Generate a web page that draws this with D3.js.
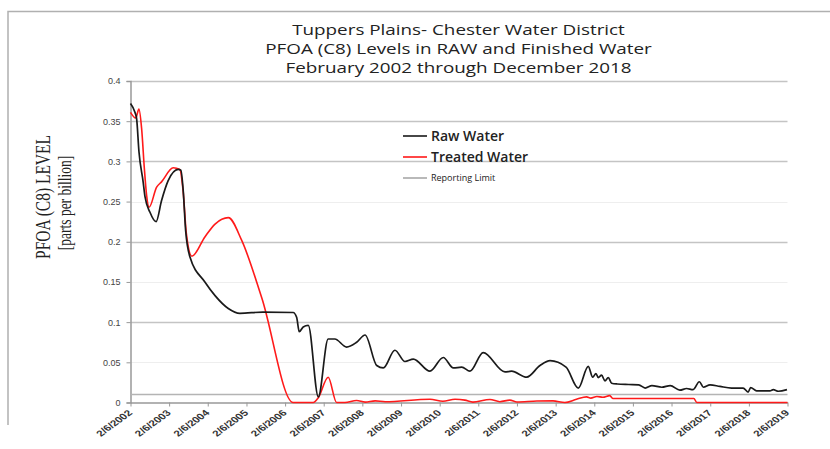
<!DOCTYPE html>
<html>
<head>
<meta charset="utf-8">
<script src="https://cdn.jsdelivr.net/npm/d3@7"></script>
<style>
  html, body { margin: 0; padding: 0; background: #fff; }
  svg { display: block; }
</style>
</head>
<body>
<div id="grafico"></div>
<script>
// dados (data, nível em ppb)
const rawDates = ["2002-02-06","2002-03-20","2002-04-05","2002-04-27","2002-06-06","2002-06-23","2002-08-08","2002-10-06",
  "2002-11-26","2003-01-28","2003-05-03","2003-05-28","2003-06-19","2003-07-12","2003-08-22","2004-01-10","2004-04-15",
  "2004-08-18","2004-12-06","2005-07-12","2006-04-23","2006-05-26","2006-06-20","2006-07-27","2006-09-13","2006-12-17",
  "2007-03-20","2007-05-22","2007-09-10","2007-12-14","2008-03-03","2008-06-21","2008-08-22","2008-12-10","2009-03-15",
  "2009-06-02","2009-11-06","2010-03-12","2010-06-15","2010-09-02","2010-11-19","2011-03-24","2011-10-16","2011-12-17",
  "2012-05-08","2012-09-11","2012-12-15","2013-05-15","2013-09-08","2013-12-11","2014-01-22","2014-02-22","2014-03-15",
  "2014-04-16","2014-05-18","2014-06-18","2014-07-20","2014-09-11","2014-12-28","2015-04-02","2015-06-02","2015-08-05",
  "2015-11-06","2016-01-25","2016-04-25","2016-06-27","2016-08-28","2016-10-26","2016-12-03","2017-02-04","2017-05-08",
  "2017-08-27","2017-12-14","2018-01-30","2018-02-23","2018-04-20","2018-08-24","2018-09-25","2018-11-11","2019-02-01"];
const rawValues = [0.372,0.361,0.353,0.312,0.274,0.256,0.237,0.225,
  0.251,0.276,0.290,0.289,0.264,0.214,0.181,0.150,0.133,
  0.117,0.111,0.1125,0.112,0.106,0.088,0.094,0.096,0.007,
  0.079,0.079,0.069,0.075,0.084,0.046,0.043,0.065,0.051,
  0.054,0.039,0.056,0.043,0.044,0.039,0.062,0.038,0.039,
  0.0315,0.046,0.052,0.044,0.018,0.045,0.0315,0.036,0.031,
  0.034,0.027,0.031,0.024,0.023,0.0224,0.022,0.018,0.021,
  0.019,0.021,0.0153,0.0174,0.016,0.0258,0.019,0.022,0.020,
  0.018,0.018,0.013,0.0186,0.0145,0.0145,0.016,0.014,0.016];

const treatedDates = ["2002-02-06","2002-03-27","2002-04-27","2002-05-22","2002-06-17","2002-07-08","2002-08-01","2002-10-11",
  "2002-11-26","2003-03-17","2003-05-18","2003-06-19","2003-07-19","2003-09-09","2004-01-10","2004-04-15","2004-08-18",
  "2004-12-22","2005-07-01","2006-04-23","2006-10-29","2006-12-17","2007-03-20","2007-06-08","2007-08-25","2007-12-14",
  "2008-03-03","2008-06-06","2008-09-09","2009-11-06","2010-03-08","2010-07-01","2010-10-02","2010-12-17","2011-05-27",
  "2011-08-28","2011-12-01","2012-02-06","2012-08-13","2013-01-12","2013-05-04","2013-08-22","2013-11-25","2014-01-04",
  "2014-03-03","2014-04-28","2014-07-02","2014-07-31","2016-09-04","2016-10-02","2019-02-06"];
const treatedValues = [0.361,0.354,0.365,0.341,0.291,0.258,0.243,0.268,
  0.2745,0.292,0.290,0.262,0.210,0.182,0.206,0.222,0.230,
  0.202,0.130,0,0,0.006,0.0315,0,0,0.0025,
  0.0005,0.002,0.001,0.004,0.0015,0.004,0.003,0.0005,0.0037,
  0.001,0.003,0.0007,0.0018,0.002,0,0.004,0.007,0.0055,
  0.0075,0.0065,0.0085,0.005,0.005,0,0];

const reportingLimit = 0.01;
const yTicks = [0, 0.05, 0.1, 0.15, 0.2, 0.25, 0.3, 0.35, 0.4];
const yTicksFaint = [0.05, 0.15, 0.25];
const tickYears = d3.range(2002, 2020);

const titleLines = ["Tuppers Plains- Chester Water District",
  "PFOA (C8) Levels in RAW and Finished Water",
  "February 2002 through December 2018"];
const legendItems = [
  { label: "Raw Water", color: "#1a1a1a", size: 14, weight: 600 },
  { label: "Treated Water", color: "#ff1a1a", size: 14, weight: 600 },
  { label: "Reporting Limit", color: "#a8a8a8", size: 9, weight: 400 }
];

// medidas
const largura = 830, altura = 449;
const parse = d3.timeParse("%Y-%m-%d");
const fmt = d3.timeFormat("%-m/%-d/%Y");
const esticar = 1.37; // a figura original está esticada na horizontal

const x = d3.scaleTime([parse("2002-02-06"), parse("2019-02-06")], [130.5, 787.5]);
const y = d3.scaleLinear([0, 0.4], [402.5, 81]);

const raw = rawDates.map((d, i) => ({ date: parse(d), v: rawValues[i] }));
const treated = treatedDates.map((d, i) => ({ date: parse(d), v: treatedValues[i] }));

const svg = d3.select("#grafico").append("svg")
    .attr("width", largura)
    .attr("height", altura)
    .attr("viewBox", [0, 0, largura, altura]);

// moldura (só topo e esquerda aparecem)
svg.append("path")
    .attr("d", "M8,425V11.5H830")
    .attr("fill", "none")
    .attr("stroke", "#b0b0b0")
    .attr("stroke-width", 1.5);

// título
svg.append("g")
    .attr("font-family", "'Open Sans', sans-serif")
    .attr("font-size", 14.5)
    .attr("fill", "#222")
    .attr("text-anchor", "middle")
  .selectAll("text")
  .data(titleLines)
  .join("text")
    .attr("transform", (d, i) => `translate(458.5,${35 + i * 19}) scale(1.3,1)`)
    .text(d => d);

// grade
svg.append("g")
  .selectAll("line")
  .data(yTicks.filter(t => t > 0))
  .join("line")
    .attr("x1", x.range()[0])
    .attr("x2", x.range()[1])
    .attr("y1", d => Math.round(y(d)) + 0.5)
    .attr("y2", d => Math.round(y(d)) + 0.5)
    .attr("stroke", d => yTicksFaint.includes(d) ? "#eeeeee" : "#c4c4c4")
    .attr("stroke-width", d => yTicksFaint.includes(d) ? 1 : 1.5);

// eixo y
svg.append("g")
    .attr("transform", `translate(${x.range()[0]},0)`)
    .call(d3.axisLeft(y).tickValues(yTicks).tickFormat(d => d === 0 ? "0" : String(d)).tickSize(4).tickPadding(6))
    .call(g => g.select(".domain").attr("stroke", "#999").attr("stroke-width", 1.5))
    .call(g => g.selectAll(".tick line").attr("stroke", "#999"))
    .call(g => g.selectAll(".tick text")
        .attr("font-family", "'Liberation Sans', sans-serif")
        .attr("font-size", 9)
        .attr("fill", "#444"));

// eixo x
svg.append("g")
    .attr("transform", `translate(0,${y(0)})`)
    .call(d3.axisBottom(x).tickValues(tickYears.map(a => new Date(a, 1, 6))).tickFormat(fmt).tickSize(4).tickSizeOuter(0))
    .call(g => g.select(".domain").attr("stroke", "#999").attr("stroke-width", 1.5))
    .call(g => g.selectAll(".tick line").attr("stroke", "#999"))
    .call(g => g.selectAll(".tick text")
        .attr("font-family", "'Liberation Sans', sans-serif")
        .attr("font-weight", "bold")
        .attr("font-size", 8.5)
        .attr("fill", "#333")
        .attr("text-anchor", "end")
        .attr("y", null).attr("dy", null)
        .attr("transform", `translate(2,11) scale(${esticar},1) rotate(-45)`));

// rótulo do eixo y
const rotulo = svg.append("g")
    .attr("font-family", "'Liberation Serif', serif")
    .attr("fill", "#222")
    .attr("text-anchor", "middle");
rotulo.append("text")
    .attr("transform", `translate(50,197) scale(${esticar},1) rotate(-90)`)
    .attr("font-size", 15.5)
    .text("PFOA (C8) LEVEL");
rotulo.append("text")
    .attr("transform", `translate(71,203) scale(${esticar},1) rotate(-90)`)
    .attr("font-size", 13.5)
    .text("[parts per billion]");

// linha do limite de relatório
svg.append("line")
    .attr("x1", x.range()[0])
    .attr("x2", x.range()[1])
    .attr("y1", y(reportingLimit))
    .attr("y2", y(reportingLimit))
    .attr("stroke", "#b4b4b4")
    .attr("stroke-width", 1.5);

const linha = d3.line()
    .x(d => x(d.date))
    .y(d => y(d.v))
    .curve(d3.curveMonotoneX);

svg.append("path")
    .datum(treated)
    .attr("fill", "none")
    .attr("stroke", "#ff1a1a")
    .attr("stroke-width", 1.6)
    .attr("d", linha);

svg.append("path")
    .datum(raw)
    .attr("fill", "none")
    .attr("stroke", "#1a1a1a")
    .attr("stroke-width", 1.7)
    .attr("d", linha);

// legenda
const leg = svg.append("g")
  .selectAll("g")
  .data(legendItems)
  .join("g")
    .attr("transform", (d, i) => `translate(403,${136 + i * 21})`);
leg.append("line")
    .attr("x2", 24)
    .attr("stroke", d => d.color)
    .attr("stroke-width", 1.6);
leg.append("text")
    .attr("x", 28)
    .attr("dy", "0.35em")
    .attr("font-family", "'Open Sans', sans-serif")
    .attr("font-size", d => d.size)
    .attr("font-weight", d => d.weight)
    .attr("fill", "#222")
    .text(d => d.label);
</script>
</body>
</html>
